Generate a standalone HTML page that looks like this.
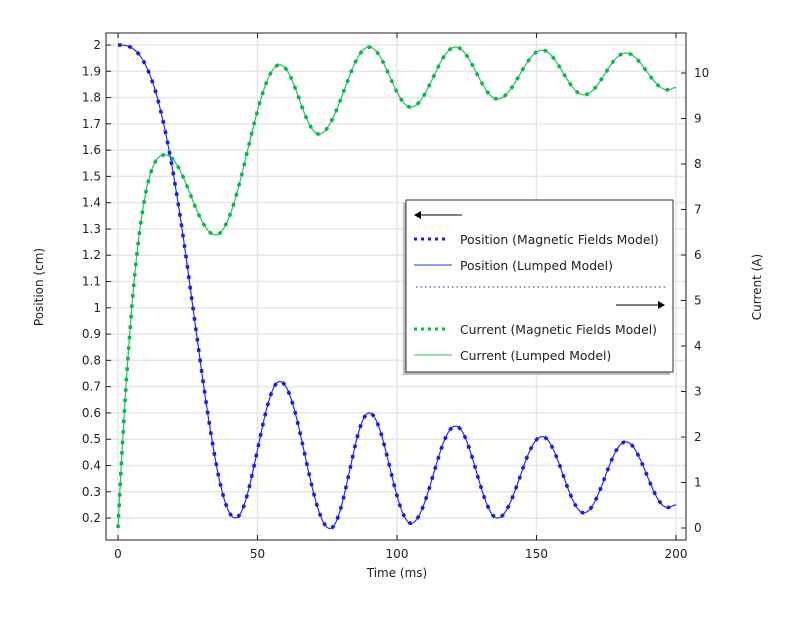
<!DOCTYPE html>
<html><head><meta charset="utf-8"><style>
body{margin:0;background:#fff;font-family:"Liberation Sans",sans-serif;}
svg text{font-family:"DejaVu Sans","Liberation Sans",sans-serif;font-size:12px;fill:#222;}
svg text.lg{font-size:12.4px;}
</style></head><body>
<svg id="s" width="801" height="615" xmlns="http://www.w3.org/2000/svg">
<rect width="801" height="615" fill="#fff"/>
<g id="grid" stroke="#e6e6e6" stroke-width="1.5"></g>
<g id="curves"></g>
<rect x="106" y="33" width="580" height="507" fill="none" stroke="#222" stroke-width="1"/>
<g id="ticks" stroke="#222" stroke-width="1"></g>
<g id="labels"></g>
<text x="397" y="577" text-anchor="middle">Time (ms)</text>
<text transform="translate(43,287) rotate(-90)" text-anchor="middle">Position (cm)</text>
<text transform="translate(761,287) rotate(-90)" text-anchor="middle">Current (A)</text>
<!-- legend -->
<rect x="403" y="203" width="267" height="172" fill="#bbb"/>
<rect x="406" y="200" width="267" height="172" fill="#fff" stroke="#333" stroke-width="1"/>
<line x1="418" y1="215" x2="462" y2="215" stroke="#000"/>
<polygon points="414,215 421,211 421,219" fill="#000"/>
<line x1="414" y1="239" x2="449" y2="239" stroke="#1a1aee" stroke-width="3" stroke-dasharray="3,4"/>
<text class="lg" x="460" y="244">Position (Magnetic Fields Model)</text>
<line x1="414" y1="265" x2="452" y2="265" stroke="#2233dd" stroke-width="1"/>
<text class="lg" x="460" y="270">Position (Lumped Model)</text>
<line x1="416" y1="287" x2="665" y2="287" stroke="#333" stroke-width="1" stroke-dasharray="1.5,3"/>
<line x1="616" y1="305" x2="660" y2="305" stroke="#000"/>
<polygon points="665,305 658,301 658,309" fill="#000"/>
<line x1="414" y1="329" x2="449" y2="329" stroke="#00bb44" stroke-width="3" stroke-dasharray="3,4"/>
<text class="lg" x="460" y="334">Current (Magnetic Fields Model)</text>
<line x1="414" y1="355" x2="452" y2="355" stroke="#33bb66" stroke-width="1"/>
<text class="lg" x="460" y="360">Current (Lumped Model)</text>
</svg>
<script>
const NS="http://www.w3.org/2000/svg";
function el(p,t,a,txt){const e=document.createElementNS(NS,t);for(const k in a)e.setAttribute(k,a[k]);if(txt!==undefined)e.textContent=txt;document.getElementById(p).appendChild(e);return e;}
const X=t=>118+t*2.79;
const YP=v=>45+(2-v)*262.8;
const YC=c=>528-c*45.5;
for(let t=0;t<=200;t+=50){el("grid","line",{x1:X(t),x2:X(t),y1:33,y2:540});
 el("ticks","line",{x1:X(t),x2:X(t),y1:540,y2:535});el("ticks","line",{x1:X(t),x2:X(t),y1:33,y2:38});
 el("labels","text",{x:X(t),y:558,"text-anchor":"middle"},String(t));}
for(let i=2;i<=20;i++){const v=i/10,y=YP(v);el("grid","line",{x1:106,x2:686,y1:y,y2:y});
 el("ticks","line",{x1:106,x2:111,y1:y,y2:y});
 el("labels","text",{x:101,y:y+4,"text-anchor":"end"},i%10==0?String(i/10):v.toFixed(1));}
for(let c=0;c<=10;c++){const y=YC(c);el("ticks","line",{x1:686,x2:681,y1:y,y2:y});
 el("labels","text",{x:694,y:y+4},String(c));}
function interp(k,t){for(let i=0;i<k.length-1;i++){const [t0,v0]=k[i],[t1,v1]=k[i+1];if(t>=t0&&t<=t1){const u=(t-t0)/(t1-t0);return v0+(v1-v0)*(1-Math.cos(Math.PI*u))/2;}}return k[k.length-1][1];}
const P=[[42,0.2],[58,0.72],[76,0.16],[90,0.6],[105,0.18],[121,0.55],[136,0.2],[152,0.51],[167,0.22],[182,0.49],[197,0.24],[200,0.25]];
const C=[[17,8.2],[35,6.44],[58,10.18],[72,8.66],[90,10.57],[105,9.25],[121,10.57],[136,9.43],[152,10.5],[167,9.52],[182,10.44],[197,9.63],[200,9.68]];
function pos(t){if(t<42){const u=Math.pow(t/42,1.4);return 2-1.8*(1-Math.cos(Math.PI*u))/2;}return interp(P,t);}
function cur(t){if(t<17){const u=t/17;return 8.2*(1-Math.pow(1-u,2.6));}return interp(C,t);}
function path(f,Y){let d="";for(let t=0;t<=200;t+=0.5){d+=(t?"L":"M")+X(t).toFixed(1)+","+Y(f(t)).toFixed(1);}return d;}
const dp=path(pos,YP), dc=path(cur,YC);
el("curves","path",{d:dc,fill:"none",stroke:"#33bb66","stroke-width":1.2});
el("curves","path",{d:dc,fill:"none",stroke:"#00bb44","stroke-width":3.5,"stroke-dasharray":"3.5,7"});
el("curves","path",{d:dp,fill:"none",stroke:"#2233dd","stroke-width":1.2});
el("curves","path",{d:dp,fill:"none",stroke:"#1a1aee","stroke-width":3.5,"stroke-dasharray":"3.5,7"});
</script>
</body></html>
